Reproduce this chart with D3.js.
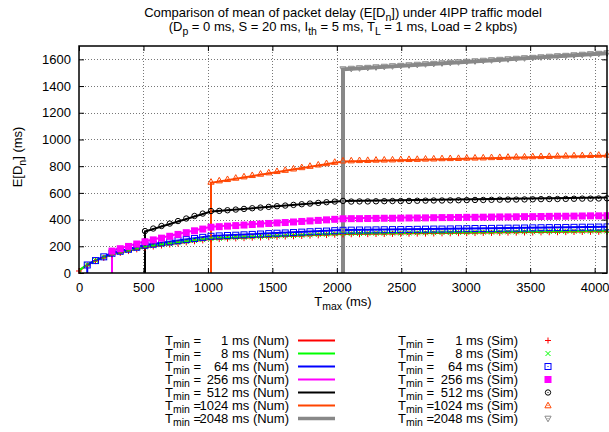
<!DOCTYPE html>
<html>
<head>
<meta charset="utf-8">
<script src="https://cdn.jsdelivr.net/npm/d3@7"></script>
<style>
  body { margin: 0; background: #fff; }
  svg text { font-family: "Liberation Sans", Arial, sans-serif; fill: #000; }
</style>
</head>
<body>
<svg id="chart" width="609" height="432"></svg>
<script>
// T_min values (ms) of the 7 cases
var tminValues = [1, 8, 64, 256, 512, 1024, 2048];

var xTicks = [0, 500, 1000, 1500, 2000, 2500, 3000, 3500, 4000];
var yTicks = [0, 200, 400, 600, 800, 1000, 1200, 1400, 1600];

// numerical results: T_max breakpoints, each series aligned to the end of numX
var numX = [1, 8, 64, 128, 256, 512, 1024, 2048, 4096];
var numT1 = [17, 24, 60, 92, 140, 193, 255, 292, 312];
var numT8 = [25, 62, 95, 143, 196, 258, 295, 316];
var numT64 = [62, 95, 150, 210, 277, 322, 347];
var numT256 = [168, 238, 347, 410, 433];
var numT512 = [310, 460, 540, 565];
var numT1024 = [676, 835, 879];
var numT2048 = [1525, 1645];

// simulation results, each series aligned to the end of simX
var simX = [0, 64, 128, 192, 256, 320, 384, 448, 512, 576, 640, 704, 768, 832, 896, 960,
  1024, 1088, 1152, 1216, 1280, 1344, 1408, 1472, 1536, 1600, 1664, 1728, 1792, 1856, 1920, 1984,
  2048, 2112, 2176, 2240, 2304, 2368, 2432, 2496, 2560, 2624, 2688, 2752, 2816, 2880, 2944, 3008,
  3072, 3136, 3200, 3264, 3328, 3392, 3456, 3520, 3584, 3648, 3712, 3776, 3840, 3904, 3968, 4032, 4096];
var simT1 = [15,
  57, 89, 113, 137, 150, 164, 177, 190,
  198, 206, 213, 221, 229, 237, 244, 252,
  254, 257, 259, 261, 264, 266, 268, 271,
  273, 275, 277, 280, 282, 284, 287, 289,
  290, 290, 291, 292, 292, 293, 293, 294,
  295, 295, 296, 297, 297, 298, 298, 299,
  300, 300, 301, 302, 302, 303, 303, 304,
  305, 305, 306, 307, 307, 308, 308, 309];
var simT8 = [
  63, 95, 119, 143, 156, 170, 183, 196,
  204, 212, 219, 227, 235, 243, 250, 258,
  260, 263, 265, 267, 270, 272, 274, 277,
  279, 281, 283, 286, 288, 290, 293, 295,
  296, 296, 297, 298, 298, 299, 299, 300,
  301, 301, 302, 303, 303, 304, 304, 305,
  306, 306, 307, 308, 308, 309, 309, 310,
  311, 311, 312, 313, 313, 314, 314, 315];
var simT64 = [
  60, 93, 121, 148, 163, 178, 193, 208,
  216, 225, 233, 242, 250, 258, 267, 275,
  278, 281, 283, 286, 289, 292, 295, 298,
  300, 303, 306, 309, 312, 314, 317, 320,
  321, 322, 322, 323, 324, 325, 325, 326,
  327, 328, 329, 329, 330, 331, 332, 333,
  333, 334, 335, 336, 336, 337, 338, 339,
  340, 340, 341, 342, 343, 343, 344, 345];
var simT256 = [
  164, 182, 199, 217, 234,
  248, 261, 275, 289, 302, 316, 329, 343,
  347, 351, 355, 359, 363, 367, 371, 375, 378, 382, 386, 390, 394, 398, 402, 406,
  407, 407, 408, 409, 410, 410, 411, 412, 412, 413, 414, 415, 415, 416, 417, 417,
  418, 419, 420, 420, 421, 422, 422, 423, 424, 425, 425, 426, 427, 428, 428, 429];
var simT512 = [
  314, 333, 352, 370, 389, 408, 427, 445, 464,
  465, 470, 475, 480, 485, 490, 495, 500, 505, 510, 515, 520, 525, 530, 535, 540,
  535, 536, 536, 537, 538, 539, 539, 540, 541, 542, 543, 543, 544, 545, 546, 547,
  547, 548, 549, 550, 550, 551, 552, 553, 554, 554, 555, 556, 557, 557, 558, 559];
var simT1024 = [
  682, 692, 702, 712, 722, 732, 742, 752, 762, 771, 781, 791, 801, 811, 821, 831, 841,
  842, 844, 845, 847, 848, 849, 851, 852, 853, 855, 856, 858, 859, 860, 862, 863,
  864, 866, 867, 869, 870, 871, 873, 874, 875, 877, 878, 880, 881, 882, 884, 885];
var simT2048 = [
  1527, 1531, 1535, 1538, 1542, 1546, 1550, 1553, 1557, 1561, 1565, 1568, 1572, 1576, 1580, 1583,
  1587, 1591, 1595, 1598, 1602, 1606, 1610, 1613, 1617, 1621, 1625, 1628, 1632, 1636, 1640, 1643, 1647];

var numSeries = [numT1, numT8, numT64, numT256, numT512, numT1024, numT2048];
var simSeries = [simT1, simT8, simT64, simT256, simT512, simT1024, simT2048];

var colors = ["#ff0000", "#00ff00", "#0000ff", "#ff00ff", "#000000", "#ff4500", "#888888"];
var lineWidths = [2, 2, 2, 2, 2, 2, 4];
var markerTypes = ["plus", "cross", "square", "fillsquare", "circle", "triup", "tridown"];

var svg = d3.select("#chart");
var plotL = 79, plotR = 607, plotT = 46, plotB = 273;

var x = d3.scaleLinear().domain([0, 4096]).range([plotL, plotR]);
var y = d3.scaleLinear().domain([0, 1700]).range([plotB, plotT]);

// write text with gnuplot-like subscripts: parts = [[text, isSub], ...]
function richText(sel, parts, subSize) {
  var wasSub = false;
  parts.forEach(function (p) {
    var t = sel.append("tspan").text(p[0]);
    if (p[1]) {
      t.attr("font-size", subSize).attr("dy", 3.5);
      wasSub = true;
    } else if (wasSub) {
      t.attr("dy", -3.5);
      wasSub = false;
    }
  });
}

// title
var t1 = svg.append("text").attr("x", 343).attr("y", 17).attr("text-anchor", "middle").attr("font-size", 13);
richText(t1, [["Comparison of mean of packet delay (E[D"], ["n", 1], ["]) under 4IPP traffic model"]], 10.5);
var t2 = svg.append("text").attr("x", 343).attr("y", 31).attr("text-anchor", "middle").attr("font-size", 13);
richText(t2, [["(D"], ["p", 1], [" = 0 ms, S = 20 ms, I"], ["th", 1], [" = 5 ms, T"], ["L", 1],
  [" = 1 ms, Load = 2 kpbs)"]], 10.5);

// grid
var grid = svg.append("g").attr("stroke", "#777").attr("stroke-width", 1).attr("stroke-dasharray", "1,2");
grid.selectAll("line.gx").data(xTicks.filter(function (d) { return d > 0; })).enter()
  .append("line").attr("class", "gx")
  .attr("x1", function (d) { return Math.round(x(d)) + 0.5; })
  .attr("x2", function (d) { return Math.round(x(d)) + 0.5; })
  .attr("y1", plotT).attr("y2", plotB);
grid.selectAll("line.gy").data(yTicks.filter(function (d) { return d > 0; })).enter()
  .append("line").attr("class", "gy")
  .attr("y1", function (d) { return Math.round(y(d)) + 0.5; })
  .attr("y2", function (d) { return Math.round(y(d)) + 0.5; })
  .attr("x1", plotL).attr("x2", plotR);

// axes with inward ticks, mirrored on top and right
function styleAxis(g) {
  g.select(".domain").remove();
  g.selectAll("text").attr("font-size", 13).attr("font-family", "Liberation Sans, Arial, sans-serif");
  g.selectAll(".tick line").attr("stroke", "#000");
}
svg.append("g").attr("transform", "translate(0," + plotB + ")")
  .call(d3.axisBottom(x).tickValues(xTicks).tickSize(-5).tickPadding(10).tickFormat(d3.format("d"))).call(styleAxis);
svg.append("g").attr("transform", "translate(0," + plotT + ")")
  .call(d3.axisTop(x).tickValues(xTicks).tickSize(-5).tickFormat("")).call(styleAxis);
svg.append("g").attr("transform", "translate(" + plotL + ",0)")
  .call(d3.axisLeft(y).tickValues(yTicks).tickSize(-5).tickPadding(8).tickFormat(d3.format("d"))).call(styleAxis);
svg.append("g").attr("transform", "translate(" + plotR + ",0)")
  .call(d3.axisRight(y).tickValues(yTicks).tickSize(-5).tickFormat("")).call(styleAxis);

// axis titles
var xt = svg.append("text").attr("x", 343).attr("y", 306).attr("text-anchor", "middle").attr("font-size", 13);
richText(xt, [["T"], ["max", 1], [" (ms)"]], 10.5);
var yt = svg.append("text").attr("transform", "translate(22,157) rotate(-90)")
  .attr("text-anchor", "middle").attr("font-size", 13);
richText(yt, [["E[D"], ["n", 1], ["] (ms)"]], 10.5);

// plot clip
svg.append("clipPath").attr("id", "plotclip").append("rect")
  .attr("x", plotL).attr("y", plotT).attr("width", plotR - plotL).attr("height", plotB - plotT);

var line = d3.line()
  .x(function (d) { return x(d[0]); })
  .y(function (d) { return y(d[1]); });

var plot = svg.append("g").attr("clip-path", "url(#plotclip)");
numSeries.forEach(function (vals, i) {
  var xs = numX.slice(numX.length - vals.length);
  var pts = [[xs[0], 0]];
  vals.forEach(function (v, j) { pts.push([xs[j], v]); });
  plot.append("path").datum(pts)
    .attr("d", line)
    .attr("fill", "none")
    .attr("stroke", colors[i])
    .attr("stroke-width", lineWidths[i])
    .attr("stroke-linejoin", "miter");
});

// point symbols
function drawMarker(g, type, color, cx, cy) {
  var s = 3;
  var p;
  if (type == "plus") {
    g.append("path").attr("d", "M" + (cx - s) + "," + cy + "H" + (cx + s) + "M" + cx + "," + (cy - s) + "V" + (cy + s))
      .attr("stroke", color).attr("fill", "none");
    return;
  }
  if (type == "cross") {
    g.append("path").attr("d", "M" + (cx - 2.5) + "," + (cy - 2.5) + "L" + (cx + 2.5) + "," + (cy + 2.5) +
      "M" + (cx - 2.5) + "," + (cy + 2.5) + "L" + (cx + 2.5) + "," + (cy - 2.5))
      .attr("stroke", color).attr("fill", "none");
    return;
  }
  if (type == "fillsquare") {
    g.append("rect").attr("x", cx - 3.5).attr("y", cy - 3.5).attr("width", 7).attr("height", 7).attr("fill", color);
    return;
  }
  if (type == "square") {
    p = g.append("rect").attr("x", cx - s).attr("y", cy - s).attr("width", 2 * s).attr("height", 2 * s);
  } else if (type == "circle") {
    p = g.append("circle").attr("cx", cx).attr("cy", cy).attr("r", 2.7);
  } else if (type == "triup") {
    p = g.append("path").attr("d", "M" + cx + "," + (cy - 3.3) + "L" + (cx + 3.1) + "," + (cy + 2.3) + "L" + (cx - 3.1) + "," + (cy + 2.3) + "Z");
  } else {
    p = g.append("path").attr("d", "M" + cx + "," + (cy + 3.3) + "L" + (cx + 3.1) + "," + (cy - 2.3) + "L" + (cx - 3.1) + "," + (cy - 2.3) + "Z");
  }
  p.attr("fill", "none").attr("stroke", color).attr("stroke-width", 1);
  g.append("rect").attr("x", cx - 0.5).attr("y", cy - 0.5).attr("width", 1).attr("height", 1).attr("fill", color);
}

var marks = svg.append("g");
simSeries.forEach(function (vals, i) {
  var xs = simX.slice(simX.length - vals.length);
  var g = marks.append("g");
  vals.forEach(function (v, j) {
    drawMarker(g, markerTypes[i], colors[i], x(xs[j]), y(v));
  });
});

// border
svg.append("rect").attr("x", plotL).attr("y", plotT).attr("width", plotR - plotL).attr("height", plotB - plotT)
  .attr("fill", "none").attr("stroke", "#000").attr("stroke-width", 1.5);

// legend
var legend = svg.append("g");
tminValues.forEach(function (t, i) {
  var by = 344.5 + 13 * i;
  var cy = by - 4;
  var a = legend.append("text").attr("x", 165).attr("y", by).attr("font-size", 13);
  richText(a, [["T"], ["min", 1], [" ="]], 10.5);
  legend.append("text").attr("x", 289).attr("y", by).attr("font-size", 13).attr("text-anchor", "end")
    .text(t + " ms (Num)");
  legend.append("line").attr("x1", 298).attr("x2", 335).attr("y1", cy).attr("y2", cy)
    .attr("stroke", colors[i]).attr("stroke-width", lineWidths[i] == 4 ? 3.5 : 2);

  var b = legend.append("text").attr("x", 398).attr("y", by).attr("font-size", 13);
  richText(b, [["T"], ["min", 1], [" ="]], 10.5);
  legend.append("text").attr("x", 518).attr("y", by).attr("font-size", 13).attr("text-anchor", "end")
    .text(t + " ms (Sim)");
  drawMarker(legend, markerTypes[i], colors[i], 548, cy);
});
</script>
</body>
</html>
